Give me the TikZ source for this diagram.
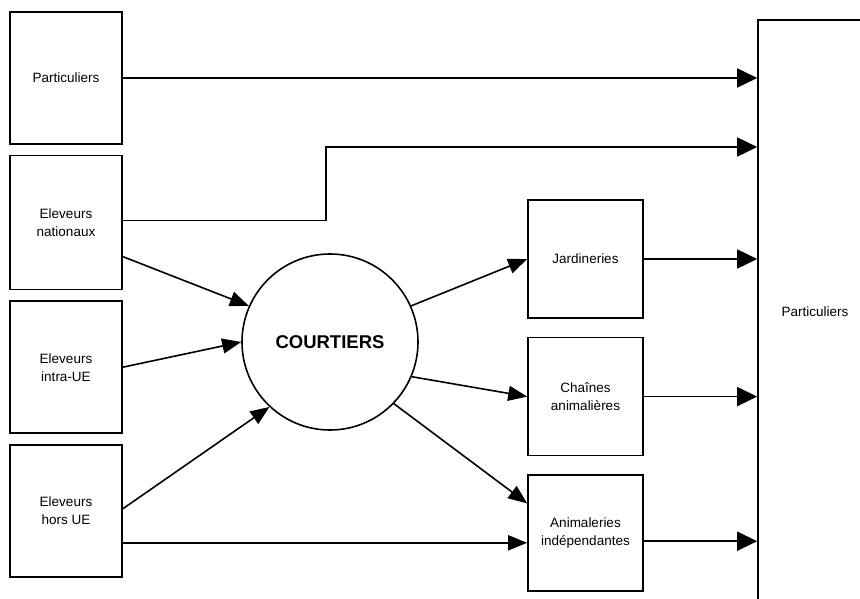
\documentclass[tikz,border=0pt]{standalone}
\usepackage{fontspec}
\setmainfont{Liberation Sans}
\usetikzlibrary{arrows.meta,positioning}
\tikzset{box/.style={draw,line width=1.6pt,minimum width=112pt,minimum height=132pt,inner sep=0pt,align=center,font=\fontsize{13.5}{18}\selectfont},midbox/.style={box,minimum width=115pt,minimum height=118pt},hub/.style={draw,circle,line width=1.6pt,minimum size=176pt,inner sep=0pt,font=\fontsize{18.5}{20}\selectfont\bfseries},edge/.style={-{Triangle[length=19pt,width=15pt]},line width=1.6pt},bigedge/.style={-{Triangle[length=20pt,width=19pt]},line width=1.6pt}}
\begin{document}
\begin{tikzpicture}[x=1pt,y=-1pt]
\useasboundingbox (0,0) rectangle (860,599);
\clip (0,0) rectangle (860,599);
% sources
\node[box] (part) at (66,78) {Particuliers};
\node[box,minimum height=134pt,below=10pt of part] (nat) {Eleveurs\\nationaux};
\node[box,below=10pt of nat] (intra) {Eleveurs\\intra-UE};
\node[box,below=10pt of intra] (hors) {Eleveurs\\hors UE};
% brokers and shops
\node[hub] (court) at (330,342) {COURTIERS};
\node[midbox] (jard) at (585.5,259) {Jardineries};
\node[midbox,below=18pt of jard] (chain) {Chaînes\\animalières};
\node[midbox,minimum height=116pt,below=18pt of chain] (anim) {Animaleries\\indépendantes};
\node[box,minimum width=114pt,minimum height=584pt] (dest) at (815,312) {Particuliers};
\coordinate (step) at (326,147);
% flows
\draw[bigedge] (part.east) -- (part.east -| dest.west);
\draw[bigedge] ([yshift=2pt]nat.east) -| (step) -- (step -| dest.west);
\draw[edge] ([yshift=-34pt]nat.east) -- (court.156);\draw[edge] (intra.east) -- (court.west);\draw[edge] ([yshift=2pt]hors.east) -- (court.227);
\draw[edge] ([yshift=-32pt]hors.east) coordinate (h) -- (h -| anim.west);
\draw[edge] (court.24) -- (jard.west);\draw[edge] (court.-23) -- (chain.west);\draw[edge] (court.-44) -- ([yshift=-29pt]anim.north west);
\draw[bigedge] (jard.east) -- (jard.east -| dest.west);\draw[bigedge] (chain.east) -- (chain.east -| dest.west);\draw[bigedge] ([yshift=-8pt]anim.east) coordinate (a) -- (a -| dest.west);
\end{tikzpicture}
\end{document}
